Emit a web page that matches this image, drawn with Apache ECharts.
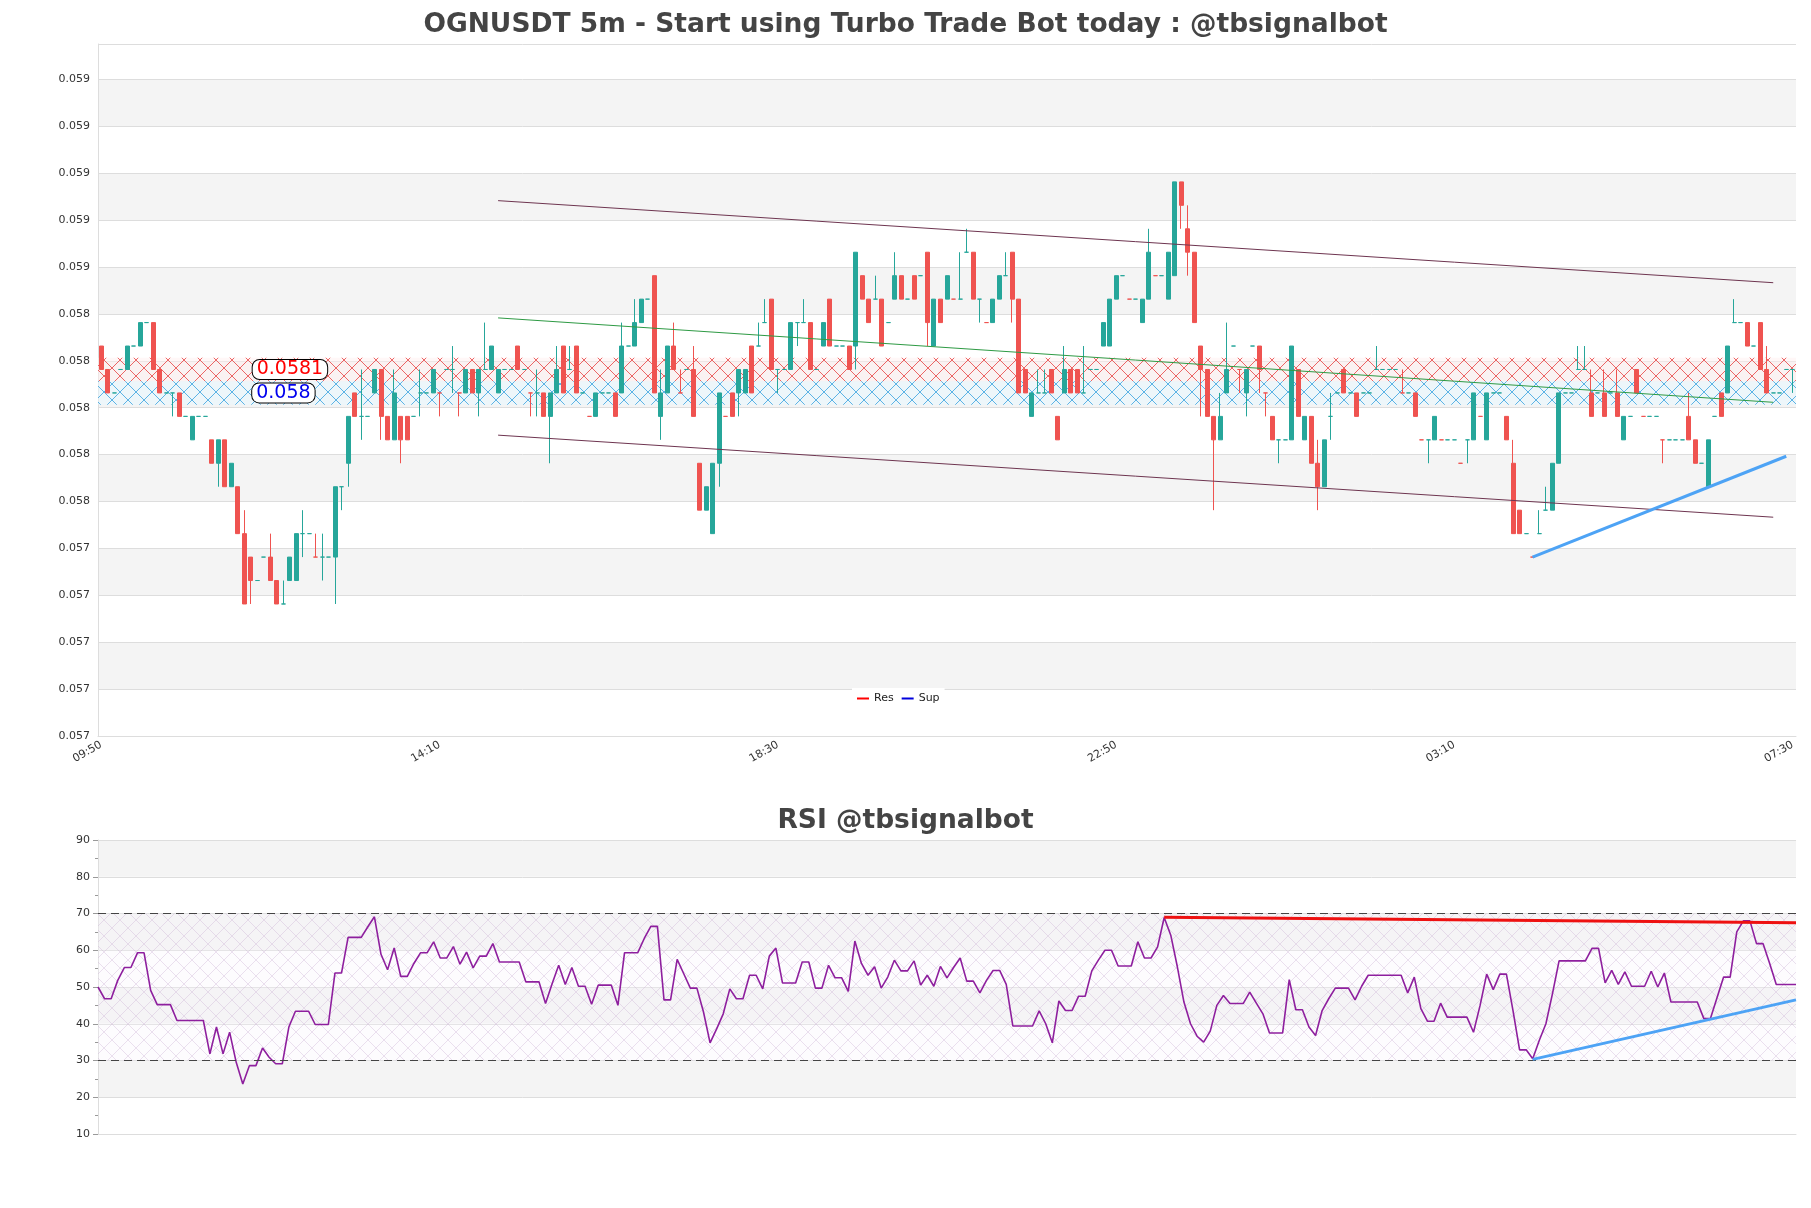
<!DOCTYPE html>
<html>
<head>
<meta charset="utf-8">
<script src="https://cdn.jsdelivr.net/npm/echarts@6/dist/echarts.min.js"></script>
<style>
  html, body { margin: 0; padding: 0; background: #fff; }
  #chart { width: 1811px; height: 1208px; }
</style>
</head>
<body>
<div id="chart"></div>
<script>
// price levels in steps of 0.0001 from 0.0580: [open, close, low, high]
const candleLv = [
  [2,1,1,2],[1,0,0,1],[0,0,0,0],[1,1,1,1],[1,2,1,2],[2,2,2,2],[2,3,2,3],[3,3,3,3],[3,1,1,3],[1,0,0,1],
  [0,0,0,0],[0,0,-1,0],[0,-1,-1,0],[-1,-1,-1,-1],[-2,-1,-2,-1],[-1,-1,-1,-1],[-1,-1,-1,-1],[-2,-3,-3,-2],[-3,-2,-4,-2],[-2,-4,-4,-2],
  [-4,-3,-4,-3],[-4,-6,-6,-4],[-6,-9,-9,-5],[-7,-8,-9,-7],[-8,-8,-8,-8],[-7,-7,-7,-7],[-7,-8,-8,-6],[-8,-9,-9,-8],[-9,-9,-9,-8],[-8,-7,-8,-7],
  [-8,-6,-8,-6],[-6,-6,-7,-5],[-6,-6,-6,-6],[-7,-7,-7,-6],[-7,-7,-8,-6],[-7,-7,-7,-7],[-7,-4,-9,-4],[-4,-4,-5,-4],[-3,-1,-4,-1],[0,-1,-1,0],
  [-1,-1,-2,1],[-1,-1,-1,-1],[0,1,0,1],[1,-1,-2,1],[-1,-2,-2,-1],[-2,0,-2,1],[-1,-2,-3,-1],[-1,-2,-2,-1],[-1,-1,-1,-1],[0,0,-1,1],
  [0,0,0,0],[0,1,0,1],[0,0,-1,0],[1,1,1,1],[1,1,0,2],[0,0,-1,0],[0,1,0,1],[1,0,0,1],[0,1,-1,1],[1,1,1,3],
  [1,2,1,2],[0,1,0,1],[1,1,1,1],[1,1,1,1],[2,1,1,2],[1,1,1,1],[0,0,-1,0],[0,0,-1,1],[0,-1,-1,0],[-1,0,-3,0],
  [0,1,0,2],[2,0,0,2],[1,1,1,2],[2,0,0,2],[0,0,0,0],[-1,-1,-1,-1],[-1,0,-1,0],[0,0,0,0],[0,0,0,0],[0,-1,-1,0],
  [0,2,0,3],[2,2,2,2],[2,3,2,4],[3,4,3,4],[4,4,4,4],[5,0,0,5],[-1,0,-2,1],[0,2,0,2],[2,1,1,3],[0,0,0,1],
  [1,1,1,1],[1,-1,-1,2],[-3,-5,-5,-3],[-5,-4,-5,-4],[-6,-3,-6,-3],[-3,0,-4,0],[-1,-1,-1,-1],[0,-1,-1,0],[0,1,-1,1],[0,1,0,1],
  [2,0,0,2],[2,2,2,3],[3,3,3,4],[4,1,1,4],[1,1,0,1],[1,1,1,1],[1,3,1,3],[3,3,2,3],[3,3,3,4],[3,1,1,3],
  [1,1,1,1],[2,3,2,3],[4,2,2,4],[2,2,2,2],[2,2,2,2],[2,1,1,2],[2,6,1,6],[5,4,4,5],[4,3,3,4],[4,4,4,5],
  [4,2,2,4],[3,3,3,3],[4,5,4,6],[5,4,4,5],[4,4,4,4],[5,4,4,5],[5,5,5,5],[6,3,2,6],[2,4,2,4],[4,3,3,4],
  [4,5,4,5],[4,4,4,4],[4,4,4,6],[6,6,6,7],[6,4,4,6],[4,4,3,4],[3,3,3,3],[3,4,3,4],[4,5,4,5],[5,5,5,6],
  [6,4,3,6],[4,0,0,4],[1,0,0,1],[-1,0,-1,0],[0,0,0,1],[0,0,0,1],[1,0,0,1],[-1,-2,-2,-1],[0,1,0,2],[1,0,0,1],
  [1,0,0,1],[0,0,0,2],[1,1,1,1],[1,1,1,1],[2,3,2,3],[2,4,2,4],[4,5,4,5],[5,5,5,5],[4,4,4,4],[4,4,4,4],
  [3,4,3,4],[4,6,4,7],[5,5,5,5],[5,5,5,5],[4,6,4,6],[5,9,5,9],[9,8,7,9],[7,6,5,8],[6,3,3,6],[2,1,-1,2],
  [1,-1,-1,1],[-1,-2,-5,-1],[-2,-1,-2,0],[0,1,0,3],[2,2,2,2],[1,1,0,1],[0,1,-1,1],[2,2,2,2],[2,1,0,2],[0,0,-1,0],
  [-1,-2,-2,-1],[-2,-2,-3,-2],[-2,-2,-2,-2],[-2,2,-2,2],[1,-1,-1,1],[-2,-1,-2,-1],[-1,-3,-3,-1],[-3,-4,-5,-2],[-4,-2,-4,-2],[-1,-1,-2,0],
  [0,0,0,0],[1,0,0,1],[0,0,0,0],[0,-1,-1,0],[0,0,0,0],[0,0,0,0],[1,1,1,2],[1,1,1,1],[1,1,1,1],[1,1,1,1],
  [0,0,0,1],[0,0,0,0],[0,-1,-1,0],[-2,-2,-2,-2],[-2,-2,-3,-2],[-2,-1,-2,-1],[-2,-2,-2,-2],[-2,-2,-2,-2],[-2,-2,-2,-2],[-3,-3,-3,-3],
  [-2,-2,-3,-2],[-2,0,-2,0],[-1,-1,-1,-1],[-2,0,-2,0],[0,0,0,0],[0,0,0,0],[-1,-2,-2,-1],[-3,-6,-6,-2],[-5,-6,-6,-5],[-6,-6,-6,-6],
  [-7,-7,-7,-7],[-6,-6,-6,-5],[-5,-5,-5,-4],[-5,-3,-5,-3],[-3,0,-3,0],[0,0,0,0],[0,0,0,0],[1,1,1,2],[1,1,1,2],[0,-1,-1,1],
  [0,0,0,0],[0,-1,-1,1],[0,0,0,0],[0,-1,-1,1],[-2,-1,-2,-1],[-1,-1,-1,-1],[1,0,0,1],[-1,-1,-1,-1],[-1,-1,-1,-1],[-1,-1,-1,-1],
  [-2,-2,-3,-2],[-2,-2,-2,-2],[-2,-2,-2,-2],[-2,-2,-2,-2],[-1,-2,-2,0],[-2,-3,-3,-2],[-3,-3,-3,-3],[-4,-2,-4,-2],[-1,-1,-1,-1],[0,-1,-1,0],
  [0,2,0,2],[3,3,3,4],[3,3,3,3],[3,2,2,3],[2,2,2,2],[3,1,1,3],[1,0,0,2],[0,0,0,0],[0,0,0,0],[1,1,1,1],
  [1,1,0,1]
]

const rsiValues = [
  50,46.8,46.8,51.8,55.3,55.3,59.3,59.3,49.1,45.2,45.2,45.2,40.9,40.9,40.9,40.9,40.9,31.8,39.1,31.8,
  37.7,29.5,23.6,28.6,28.6,33.4,30.9,29.1,29.1,39.1,43.4,43.4,43.4,39.8,39.8,39.8,53.8,53.8,63.5,63.5,
  63.5,66.4,69.1,58.9,54.7,60.6,52.9,52.9,56.4,59.3,59.3,62.3,57.9,57.9,61,56.2,59.5,55.2,58.4,58.4,
  61.8,56.8,56.8,56.8,56.8,51.4,51.4,51.4,45.5,50.9,55.9,50.7,55.3,50.2,50.2,45.3,50.5,50.5,50.5,45,
  59.3,59.3,59.3,63.2,66.5,66.5,46.5,46.5,
  57.5,53.6,49.7,49.7,43.2,34.8,38.6,42.7,49.5,46.8,46.8,53.2,53.2,49.5,58.4,60.6,51.1,51.1,51.1,56.8,
  56.8,49.7,49.7,55.9,52.5,52.5,48.8,62.5,56.4,53.2,55.5,49.7,52.7,57.3,54.4,54.4,57.1,50.5,53.2,50.2,
  55.6,52.5,55.3,57.9,51.6,51.6,48.4,51.8,54.5,54.5,50.7,39.4,39.4,39.4,39.4,43.5,40,34.8,46.2,43.6,
  43.6,47.5,47.5,54.4,57.3,60,60,55.7,55.7,55.7,62.3,57.9,57.9,60.9,68.9,64.1,55.5,45.9,40,36.6,
  35,38,45,47.7,
  45.5,45.5,45.5,48.6,45.6,42.7,37.5,37.5,37.5,52,43.8,43.8,39.1,36.8,43.6,46.8,49.7,49.7,49.7,46.5,
  50.2,53.2,53.2,53.2,53.2,53.2,53.2,48.4,52.7,44.1,40.7,40.7,45.6,41.8,41.8,41.8,41.8,37.7,45,53.5,
  49.3,53.5,53.5,43.6,32.9,32.9,30.5,35.5,40,48.2,57.1,57.1,57.1,57.1,57.1,60.5,60.5,51.1,54.5,50.7,
  54.1,50.2,50.2,50.2,54.3,50,53.8,45.9,45.9,45.9,45.9,45.9,41.4,41.4,47.1,52.7,52.7,65,68,68,
  61.8,61.8,56.4,50.7,50.7,50.7,50.7
]

// support / resistance (price)
const resLevel = 0.0581
const supLevel = 0.0580
const resZone = [0.05805, 0.05815]
const supZone = [0.05795, 0.05805]
// trend lines: [startIndex, startLevel, endIndex, endLevel]
const channelTop = [61, 8.2, 257, 4.7]
const channelBottom = [61, -1.8, 257, -5.3]
const midTrend = [61, 3.2, 257, -0.4]
const supTrend = [220, -7, 259, -2.7]

const startTime = new Date(2024, 0, 1, 9, 50)
const times = candleLv.map((_, i) => {
  const d = new Date(startTime.getTime() + i * 300000)
  return String(d.getHours()).padStart(2, '0') + ':' + String(d.getMinutes()).padStart(2, '0')
})
const toPrice = lv => +(0.058 + lv * 0.0001).toFixed(5)
const candles = candleLv.map(c => c.map(toPrice))
const rsiCats = rsiValues.map((_, i) => i)

// hatch pattern for the zones
function hatch (line, fill) {
  const c = document.createElement('canvas')
  c.width = 16; c.height = 16
  const g = c.getContext('2d')
  g.fillStyle = fill
  g.fillRect(0, 0, 16, 16)
  g.strokeStyle = line
  g.lineWidth = 1
  g.beginPath()
  g.moveTo(0, 0); g.lineTo(16, 16)
  g.moveTo(16, 0); g.lineTo(0, 16)
  g.stroke()
  return { image: c, repeat: 'repeat' }
}

const trendLine = (t, color, width) => [
  { coord: [t[0], toPrice(t[1])], lineStyle: { color: color, width: width, type: 'solid' } },
  { coord: [t[2], toPrice(t[3])] }
]

const font = 'DejaVu Sans'
const chart = echarts.init(document.getElementById('chart'))
const lastRsi = rsiValues.length - 1
const redStart = rsiValues.indexOf(68.9)
const blueStart = rsiValues.lastIndexOf(30.5)
const boxLabel = (text, color) => ({
  show: true, formatter: text, color: color, fontSize: 19, backgroundColor: '#fff',
  borderColor: '#000', borderWidth: 1, borderRadius: 7, padding: [0, 4]
})

chart.setOption({
  animation: false,
  textStyle: { fontFamily: font },
  title: [
    { text: 'OGNUSDT 5m - Start using Turbo Trade Bot today : @tbsignalbot', left: 'center', top: 7,
      textStyle: { fontSize: 26.5, fontWeight: 'bold', color: '#444', fontFamily: font } },
    { text: 'RSI @tbsignalbot', left: 'center', top: 803,
      textStyle: { fontSize: 26.5, fontWeight: 'bold', color: '#444', fontFamily: font } }
  ],
  legend: {
    data: ['Res', 'Sup'], left: 852, top: 688, icon: 'rect', itemWidth: 12, itemHeight: 2,
    backgroundColor: '#fff', textStyle: { fontSize: 11, color: '#222' }
  },
  grid: [
    { left: 98, right: 15, top: 44, height: 692 },
    { left: 98, right: 15, top: 840, height: 294 }
  ],
  xAxis: [
    { type: 'category', gridIndex: 0, data: times, boundaryGap: true,
      axisLine: { lineStyle: { color: '#ddd' } }, axisTick: { show: false },
      axisLabel: { interval: 51, rotate: 30, fontSize: 11, color: '#333' }, splitLine: { show: false } },
    { type: 'category', gridIndex: 1, data: rsiCats, boundaryGap: false,
      axisLine: { lineStyle: { color: '#ddd' } }, axisTick: { show: false }, axisLabel: { show: false } }
  ],
  yAxis: [
    { type: 'value', gridIndex: 0, min: 0.056537, max: 0.059488, interval: 0.0002, scale: true,
      axisLine: { show: true, lineStyle: { color: '#ddd' } }, axisTick: { show: false },
      axisLabel: { fontSize: 11, color: '#333', showMaxLabel: false, formatter: v => v.toFixed(3) },
      splitLine: { lineStyle: { color: '#ddd' } },
      splitArea: { show: true, areaStyle: { color: ['#ffffff', '#f4f4f4'] } } },
    { type: 'value', gridIndex: 1, min: 10, max: 90, interval: 10,
      axisLine: { show: true, lineStyle: { color: '#ddd' } },
      axisTick: { show: true, lineStyle: { color: '#999' } },
      minorTick: { show: true, splitNumber: 2, lineStyle: { color: '#999' } },
      axisLabel: { fontSize: 11, color: '#333' },
      splitLine: { lineStyle: { color: '#ddd' } },
      splitArea: { show: true, areaStyle: { color: ['#ffffff', '#f4f4f4'] } } }
  ],
  series: [
    {
      name: 'OGNUSDT', type: 'candlestick', xAxisIndex: 0, yAxisIndex: 0, data: candles, barWidth: 4.5,
      itemStyle: { color: '#26a69a', color0: '#ef5350', borderColor: '#26a69a', borderColor0: '#ef5350', borderWidth: 1 },
      markArea: {
        silent: true,
        data: [
          [{ yAxis: resZone[0], itemStyle: { color: hatch('rgba(230,40,40,0.7)', 'rgba(255,240,240,0.5)') } }, { yAxis: resZone[1] }],
          [{ yAxis: supZone[0], itemStyle: { color: hatch('rgba(30,150,220,0.7)', 'rgba(230,247,255,0.5)') } }, { yAxis: supZone[1] }]
        ]
      },
      markLine: {
        silent: true, symbol: 'none', label: { show: false },
        data: [
          { yAxis: resZone[1], lineStyle: { color: '#e03030', type: 'dashed', width: 1 } },
          { yAxis: supZone[0], lineStyle: { color: '#2a9ad8', type: 'dashed', width: 1 } },
          { yAxis: resZone[0], lineStyle: { color: '#7a5a8a', type: 'dashed', width: 1.5 } },
          { yAxis: resLevel, lineStyle: { color: '#ff0000', type: 'dotted', width: 2.5 } },
          { yAxis: supLevel, lineStyle: { color: '#0000dd', type: 'dotted', width: 2.5 } },
          trendLine(channelTop, '#6e3550', 1),
          trendLine(channelBottom, '#6e3550', 1),
          trendLine(midTrend, '#2e9a44', 1),
          trendLine(supTrend, '#4da3f5', 3)
        ]
      },
      markPoint: {
        silent: true, symbol: 'rect', symbolSize: 1,
        itemStyle: { color: 'rgba(0,0,0,0)' },
        data: [
          { coord: [29, resLevel], label: boxLabel('0.0581', '#ff0000') },
          { coord: [28, supLevel], label: boxLabel('0.058', '#0000ee') }
        ]
      }
    },
    { name: 'Res', type: 'line', xAxisIndex: 0, yAxisIndex: 0, data: [], itemStyle: { color: '#ff0000' } },
    { name: 'Sup', type: 'line', xAxisIndex: 0, yAxisIndex: 0, data: [], itemStyle: { color: '#0000dd' } },
    {
      name: 'RSI', type: 'line', xAxisIndex: 1, yAxisIndex: 1, data: rsiValues, symbol: 'none',
      lineStyle: { color: '#8e1f9e', width: 1.6 },
      markArea: {
        silent: true,
        data: [[{ yAxis: 30, itemStyle: { color: hatch('rgba(200,170,210,0.35)', 'rgba(250,245,252,0.3)') } }, { yAxis: 70 }]]
      },
      markLine: {
        silent: true, symbol: 'none', label: { show: false },
        data: [
          { yAxis: 70, lineStyle: { color: '#444', type: [8, 5], width: 1 } },
          { yAxis: 30, lineStyle: { color: '#444', type: [8, 5], width: 1 } },
          [{ coord: [redStart, 69], lineStyle: { color: '#ee1111', width: 3, type: 'solid' } }, { coord: [lastRsi, 67.5] }],
          [{ coord: [blueStart, 30.3], lineStyle: { color: '#4da3f5', width: 3, type: 'solid' } }, { coord: [lastRsi, 46.5] }]
        ]
      }
    }
  ]
})
</script>
</body>
</html>
